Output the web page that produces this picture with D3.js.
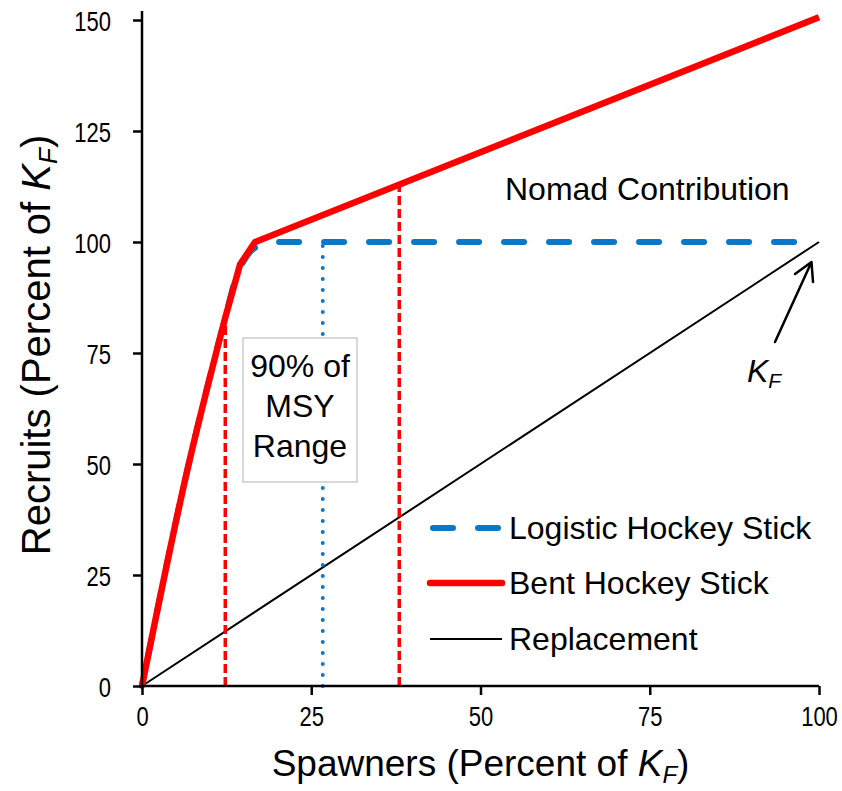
<!DOCTYPE html>
<html>
<head>
<meta charset="utf-8">
<script src="https://cdn.jsdelivr.net/npm/d3@7"></script>
<style>
  html, body { margin: 0; padding: 0; background: #fff; }
  svg text { font-family: "Liberation Sans", Arial, sans-serif; fill: #000; }
</style>
</head>
<body>
<svg id="chart" width="842" height="791"></svg>
<script>
// ---- data ----
const xTicks = [0, 25, 50, 75, 100];
const yTicks = [0, 25, 50, 75, 100, 125, 150];
const bentX = [0, 6.6, 12.3, 14.5, 16.7, 100];
const bentY = [0, 48, 83, 95, 100, 150.6];
const logisticX = [0, 6.6, 12.3, 14, 15, 16, 17, 18, 19, 20, 100];
const logisticY = [0, 48, 83, 92.5, 95.6, 97.8, 99, 99.6, 99.9, 100, 100];
const replacementX = [0, 100];
const replacementY = [0, 100];
const msyLow = 12.3, msyHigh = 38, msyOpt = 26.7;
const seriesNames = ["Logistic Hockey Stick", "Bent Hockey Stick", "Replacement"];

const svg = d3.select("#chart");
const x = d3.scaleLinear().domain([0, 100]).range([142, 819]);
const y = d3.scaleLinear().domain([0, 150]).range([686, 20]);

const blue = "#0a78c6", red = "#ff0000";
const line = d3.line().x(d => x(d[0])).y(d => y(d[1]));
const smooth = d3.line().x(d => x(d[0])).y(d => y(d[1])).curve(d3.curveMonotoneX);
const bentAt = v => {
  for (let i = 1; i < bentX.length; i++) {
    if (v <= bentX[i]) {
      const t = (v - bentX[i-1]) / (bentX[i] - bentX[i-1]);
      return bentY[i-1] + t * (bentY[i] - bentY[i-1]);
    }
  }
  return bentY[bentY.length - 1];
};

// replacement line
svg.append("path").attr("d", line(replacementX.map((v, i) => [v, replacementY[i]])))
  .attr("fill", "none").attr("stroke", "#000").attr("stroke-width", 2);

// blue dotted vertical (MSY)
svg.append("line").attr("x1", x(msyOpt)).attr("x2", x(msyOpt))
  .attr("y1", y(0)).attr("y2", y(100))
  .attr("stroke", blue).attr("stroke-width", 4).attr("stroke-linecap", "round")
  .attr("stroke-dasharray", "0 11");

// red dashed verticals
[msyLow, msyHigh].forEach(v => {
  svg.append("line").attr("x1", x(v)).attr("x2", x(v))
    .attr("y1", y(0)).attr("y2", y(bentAt(v)))
    .attr("stroke", red).attr("stroke-width", 3.5).attr("stroke-dasharray", "9 4");
});

// logistic hockey stick (blue dashed)
const logPath = svg.append("path")
  .attr("d", smooth(logisticX.map((v, i) => [v, logisticY[i]])))
  .attr("fill", "none").attr("stroke", blue).attr("stroke-width", 6)
  .attr("stroke-linecap", "round").attr("stroke-linejoin", "round");
const L = logPath.node().getTotalLength();
logPath.attr("stroke-dasharray", "20 25").attr("stroke-dashoffset", (45 - (L % 45)) % 45);

// bent hockey stick (red): smooth lower limb, straight segments after
const bentPts = bentX.map((v, i) => [v, bentY[i]]);
const bentD = smooth(bentPts.slice(0, 3)) + line(bentPts.slice(2)).replace(/^M/, "L");
svg.append("path").attr("d", bentD)
  .attr("fill", "none").attr("stroke", red).attr("stroke-width", 6.5)
  .attr("stroke-linejoin", "round");

// axes
const sy = 1.28;
const xAxis = svg.append("g").attr("transform", `translate(0,${y(0)})`)
  .call(d3.axisBottom(x).tickValues(xTicks).tickSize(9).tickSizeOuter(0));
const yAxis = svg.append("g").attr("transform", `translate(${x(0)},0)`)
  .call(d3.axisLeft(y).tickValues(yTicks).tickSize(9).tickPadding(22).tickSizeOuter(0));
[xAxis, yAxis].forEach(g => {
  g.select(".domain").attr("stroke", "#000").attr("stroke-width", 2.5);
  g.selectAll(".tick line").attr("stroke", "#000").attr("stroke-width", 2.5);
  g.selectAll(".tick text").attr("font-size", 22).attr("font-family", "Liberation Sans, Arial, sans-serif")
    .attr("fill", "#000").attr("dy", 0).attr("transform", `scale(1,${sy})`);
});
xAxis.selectAll(".tick text").attr("y", 40 / sy);
yAxis.selectAll(".tick text").attr("y", 10 / sy);
xAxis.select(".domain").attr("d", `M${x(0)},0H${x(100)}`);
yAxis.select(".domain").attr("d", `M0,${y(0)}V11`);

// axis titles
const xt = svg.append("text").attr("x", (x(0) + x(100)) / 2).attr("y", 776)
  .attr("text-anchor", "middle").attr("font-size", 37);
xt.append("tspan").text("Spawners (Percent of ");
xt.append("tspan").attr("font-style", "italic").text("K");
xt.append("tspan").attr("font-style", "italic").attr("font-size", 24).attr("dy", 7).text("F");
xt.append("tspan").attr("dy", -7).text(")");

const yt = svg.append("text").attr("transform", `translate(50,345) rotate(-90)`)
  .attr("text-anchor", "middle").attr("font-size", 40);
yt.append("tspan").text("Recruits (Percent of ");
yt.append("tspan").attr("font-style", "italic").text("K");
yt.append("tspan").attr("font-style", "italic").attr("font-size", 26).attr("dy", 7).text("F");
yt.append("tspan").attr("dy", -7).text(")");

// MSY box
svg.append("rect").attr("x", 243).attr("y", 338).attr("width", 114).attr("height", 144)
  .attr("fill", "#fff").attr("stroke", "#bfbfbf").attr("stroke-width", 1.2);
["90% of", "MSY", "Range"].forEach((t, i) => {
  svg.append("text").attr("x", 300).attr("y", 377 + i * 40).attr("text-anchor", "middle")
    .attr("font-size", 32).text(t);
});

// Nomad contribution
svg.append("text").attr("x", 505).attr("y", 200).attr("font-size", 32).text("Nomad Contribution");

// K_F annotation with arrow
const kf = svg.append("text").attr("x", 747).attr("y", 382).attr("font-size", 32).attr("font-style", "italic");
kf.append("tspan").text("K");
kf.append("tspan").attr("font-size", 21).attr("dy", 6).text("F");
svg.append("path").attr("d", "M775,342L811.5,262M795,274L811.5,262L813,282")
  .attr("fill", "none").attr("stroke", "#000").attr("stroke-width", 2.5)
  .attr("stroke-linecap", "round").attr("stroke-linejoin", "round");

// legend
const legY = [528, 583, 639];
const leg = svg.append("g");
leg.append("line").attr("x1", 433).attr("x2", 498).attr("y1", legY[0]).attr("y2", legY[0])
  .attr("stroke", blue).attr("stroke-width", 6).attr("stroke-linecap", "round").attr("stroke-dasharray", "20 25");
leg.append("line").attr("x1", 430).attr("x2", 502).attr("y1", legY[1]).attr("y2", legY[1])
  .attr("stroke", red).attr("stroke-width", 6.5).attr("stroke-linecap", "round");
leg.append("line").attr("x1", 430).attr("x2", 502).attr("y1", legY[2]).attr("y2", legY[2])
  .attr("stroke", "#000").attr("stroke-width", 2);
seriesNames.forEach((n, i) => {
  leg.append("text").attr("x", 509).attr("y", legY[i] + 11).attr("font-size", 32).text(n);
});
</script>
</body>
</html>
